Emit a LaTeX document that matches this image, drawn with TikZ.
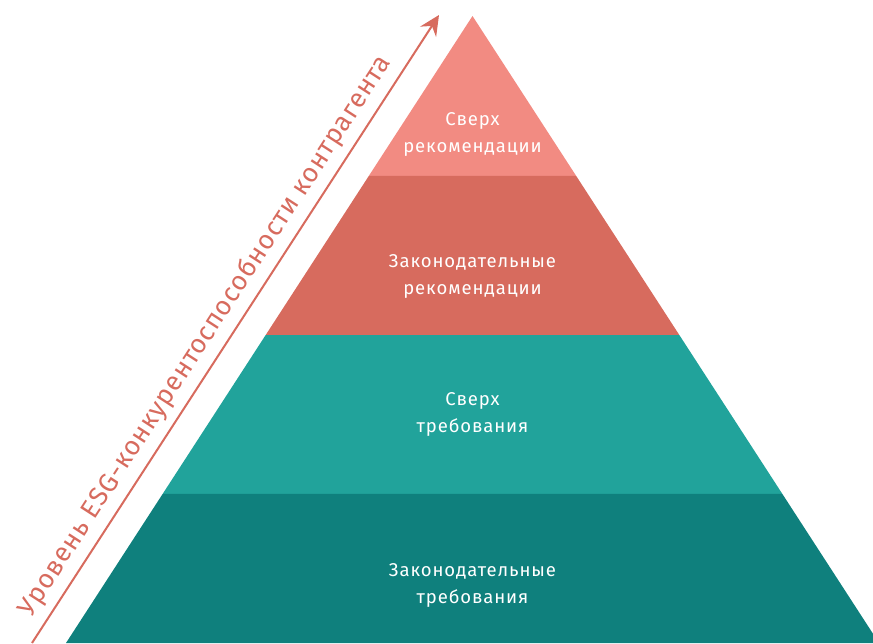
\documentclass[tikz,border=0pt]{standalone}
\usepackage{fontspec}
\setmainfont{Fira Sans}[LetterSpace=5]
\newfontfamily\axisfont{Fira Sans}[LetterSpace=3]
\usetikzlibrary{calc,arrows.meta}
\definecolor{tierTop}{RGB}{242,139,130}
\definecolor{tierRec}{RGB}{215,107,94}
\definecolor{tierReq}{RGB}{33,163,155}
\definecolor{tierLaw}{RGB}{15,128,125}
\tikzset{
  tierlabel/.style={text=white,align=center,font=\fontsize{18.5}{27}\selectfont},
  axisline/.style={draw=tierRec,line width=2pt,-{Stealth[length=20pt,width=19pt,inset=7pt]}},
}

\begin{document}
\begin{tikzpicture}[x=1pt,y=1pt]
\useasboundingbox (0,0) rectangle (873,-643);
\clip (0,0) rectangle (873,-643);
\coordinate (top) at (472.5,-16);
\coordinate (bl) at (66,-643);
\coordinate (br) at (879,-643);
% tier boundaries
\coordinate (l1) at ($(top)!.255!(bl)$); \coordinate (r1) at ($(top)!.255!(br)$);
\coordinate (l2) at ($(top)!.509!(bl)$); \coordinate (r2) at ($(top)!.509!(br)$);
\coordinate (l3) at ($(top)!.762!(bl)$); \coordinate (r3) at ($(top)!.762!(br)$);
\fill[tierTop] (top)--(r1)--(l1)--cycle;
\fill[tierRec] (l1)--(r1)--(r2)--(l2)--cycle;
\fill[tierReq] (l2)--(r2)--(r3)--(l3)--cycle;
\fill[tierLaw] (l3)--(r3)--(br)--(bl)--cycle;
\node[tierlabel] (topTxt) at (472.5,-134) {Сверх\\рекомендации};
\node[tierlabel] (recTxt) at (472.5,-276) {Законодательные\\рекомендации};
\node[tierlabel] (reqTxt) at (472.5,-414) {Сверх\\требования};
\node[tierlabel] (lawTxt) at (472.5,-585) {Законодательные\\требования};
% axis
\coordinate (axStart) at (32,-643);
\coordinate (axEnd) at (439,-15);
\draw[axisline] (axStart) -- node[pos=.47,sloped,above=4pt,text=tierRec,font=\axisfont\fontsize{26.5}{30}\selectfont] (axTxt) {Уровень ESG-конкурентоспособности контрагента} (axEnd);
\end{tikzpicture}
\end{document}
